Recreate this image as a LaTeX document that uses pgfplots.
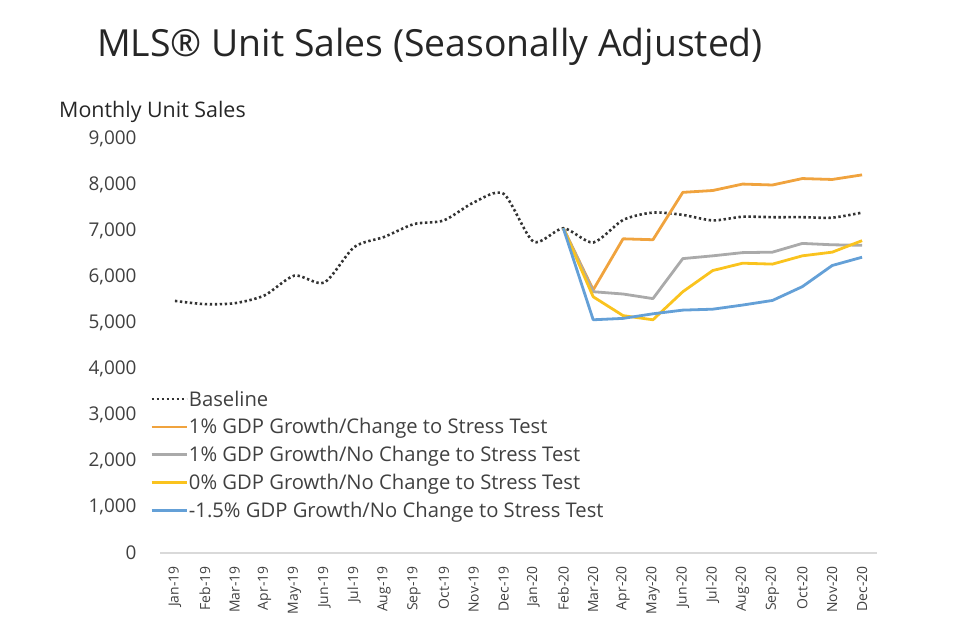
\documentclass[border=0pt]{standalone}
\usepackage{pgfplots}
\pgfplotsset{compat=1.18}
\usepackage{fontspec}
\setmainfont{Open Sans}
\definecolor{corange}{RGB}{240,163,62}
\definecolor{cgray}{RGB}{170,170,170}
\definecolor{cyellow}{RGB}{250,195,30}
\definecolor{cblue}{RGB}{100,160,215}
\definecolor{ctext}{RGB}{64,64,64}
\definecolor{caxis}{RGB}{217,217,217}
\begin{document}
\begin{tikzpicture}[x=1bp,y=1bp]
\path[use as bounding box] (0,0) rectangle (960,629);
\node[anchor=center,font=\fontsize{37.5}{40}\selectfont,text=black!85] at (430,582) {MLS® Unit Sales (Seasonally Adjusted)};
\node[anchor=west,font=\fontsize{21.5}{24}\selectfont,text=black!85,inner sep=0pt] at (59,517) {Monthly Unit Sales};
\begin{axis}[
  at={(160bp,76bp)}, anchor=south west,
  width=717bp, height=414bp, scale only axis,
  xmin=-0.5, xmax=23.5, ymin=0, ymax=9000,
  axis y line*=left,
  y axis line style={draw=none},
  axis x line*=bottom,
  x axis line style={draw=caxis, line width=1.2bp, -},
  ytick={0,1000,...,9000},
  xtick={0,...,23},
  xticklabels={Jan-19,Feb-19,Mar-19,Apr-19,May-19,Jun-19,Jul-19,Aug-19,Sep-19,Oct-19,Nov-19,Dec-19,Jan-20,Feb-20,Mar-20,Apr-20,May-20,Jun-20,Jul-20,Aug-20,Sep-20,Oct-20,Nov-20,Dec-20},
  major tick length=0pt,
  x tick label style={rotate=90, anchor=east, font=\fontsize{14}{16}\selectfont, text=ctext, xshift=-10bp},
  yticklabel style={font=\fontsize{19}{21}\selectfont, text=ctext, xshift=-20bp},
  /pgf/number format/1000 sep={,},
  /pgf/number format/assume math mode=true,
  ytick style={draw=none}, xtick style={draw=none},
  clip=false,
  legend cell align=left,
  legend style={at={(-0.014,0.395)}, anchor=north west, draw=none, fill=none,
    font=\fontsize{20.3}{22}\selectfont, text=ctext, row sep=9bp, inner sep=0pt,
    nodes={inner sep=1bp}},
  legend image code/.code={\draw[#1] (0bp,0bp) -- (35bp,0bp);},
]
\addplot[black!80, line width=2.6bp, dash pattern=on 2.4bp off 2.6bp, smooth, tension=0.45] coordinates {
(0,5480) (1,5410) (2,5430) (3,5600) (4,6030) (5,5880) (6,6650) (7,6870) (8,7150) (9,7230) (10,7620) (11,7810)
(12,6770) (13,7060) (14,6750) (15,7240) (16,7400) (17,7350) (18,7230) (19,7310) (20,7300) (21,7300) (22,7290) (23,7400)};
\addlegendentry{Baseline}
\addplot[corange, line width=2.8bp, line join=round] coordinates {
(13,7060) (14,5720) (15,6830) (16,6810) (17,7840) (18,7880) (19,8020) (20,8000) (21,8140) (22,8120) (23,8220)};
\addlegendentry{1\% GDP Growth/Change to Stress Test}
\addplot[cgray, line width=2.8bp, line join=round] coordinates {
(13,7060) (14,5680) (15,5630) (16,5530) (17,6400) (18,6460) (19,6530) (20,6540) (21,6730) (22,6700) (23,6690)};
\addlegendentry{1\% GDP Growth/No Change to Stress Test}
\addplot[cyellow, line width=2.8bp, line join=round] coordinates {
(13,7060) (14,5570) (15,5160) (16,5070) (17,5680) (18,6140) (19,6300) (20,6280) (21,6460) (22,6540) (23,6790)};
\addlegendentry{0\% GDP Growth/No Change to Stress Test}
\addplot[cblue, line width=2.8bp, line join=round] coordinates {
(13,7060) (14,5070) (15,5100) (16,5200) (17,5280) (18,5300) (19,5390) (20,5490) (21,5790) (22,6250) (23,6430)};
\addlegendentry{-1.5\% GDP Growth/No Change to Stress Test}
\end{axis}
\end{tikzpicture}
\end{document}
